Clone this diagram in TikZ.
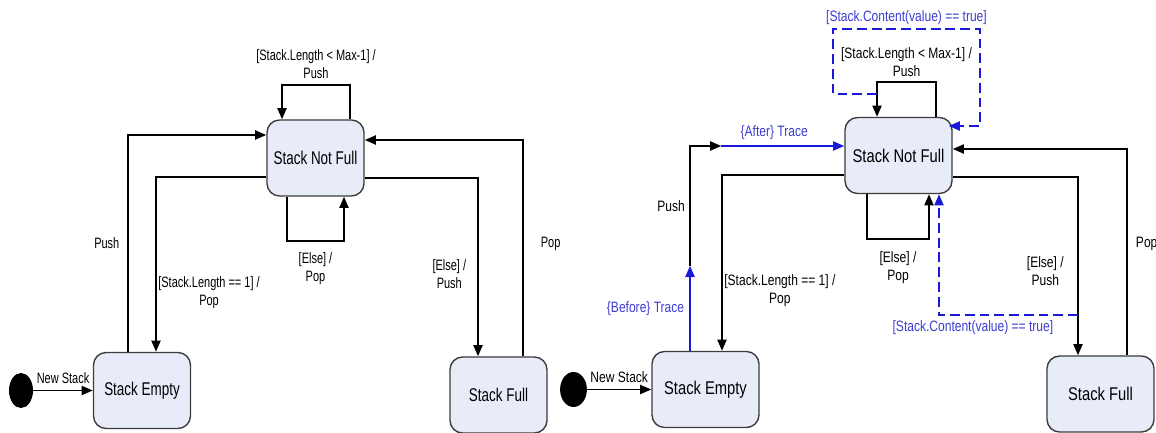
\documentclass[tikz,border=0pt]{standalone}
\usepackage{fontspec}
\newfontfamily\lfam{Liberation Sans}[FakeStretch=0.73]
\newfontfamily\rfam{Liberation Sans}[FakeStretch=0.80]
\usepackage{xcolor}
\usepackage{tikz}
\usetikzlibrary{shapes.geometric,arrows.meta,calc}

\definecolor{stfill}{RGB}{232,236,248}
\definecolor{stdraw}{RGB}{60,60,60}
\definecolor{traceblue}{RGB}{25,25,215}
\definecolor{tracetext}{RGB}{60,60,210}
\newcommand\bigfs{\fontsize{13.1}{15.7}\selectfont}
\newcommand\smallfs{\fontsize{10.7}{12.8}\selectfont}

\tikzset{
  stbox/.style={rectangle, rounded corners=9pt, draw=stdraw, fill=stfill, line width=1pt, minimum height=1.9cm, inner sep=2pt},
  initdot/.style={ellipse, fill=black, minimum width=0.6cm, minimum height=0.875cm, inner sep=0pt},
  trlbl/.style={align=center, inner sep=1pt},
  bluelbl/.style={trlbl, text=tracetext},
  trans/.style={line width=1.35pt, -{Triangle[length=8pt,width=6.5pt]}},
  trace/.style={trans, draw=traceblue},
  tracedash/.style={trace, dash pattern=on 7pt off 3.5pt},
}

\begin{document}
\begin{tikzpicture}[x=0.025cm, y=-0.025cm]
\useasboundingbox (0,0) rectangle (1156,433);

% Left machine
\begin{scope}[stbox/.append style={font=\lfam\bigfs, minimum width=2.425cm}, trlbl/.append style={font=\lfam\smallfs}]
\node[stbox] (nf1) at (315.5,158) {Stack Not Full};
\node[stbox] (em1) at (142,390.5) {Stack Empty};
\node[stbox] (fu1) at (498.5,395) {Stack Full};
\node[initdot] (in1) at (21,390.5) {};

\draw[trans] (in1) -- node[trlbl, above=3pt] (ns1) {New Stack} (em1);
\draw[trans] ($(em1.north)+(-14,0)$) |- node[trlbl, pos=0.25, left=4.5pt] (pu1) {Push} ($(nf1.west)+(0,-23)$);
\draw[trans] ($(nf1.west)+(0,19)$) -| node[trlbl, pos=0.83, right=0pt] (po1) {[Stack.Length == 1] /\\Pop} ($(em1.north)+(14,0)$);
\draw[trans] ($(nf1.south)+(-28.5,0)$) -- ++(0,44) -| node[trlbl, pos=0.25, below=7pt] (ep1) {[Else] /\\Pop} ($(nf1.south)+(28.5,0)$);
\draw[trans] ($(nf1.north)+(34.5,0)$) -- ++(0,-34) -| node[trlbl, pos=0.25, above=3pt] (lp1) {[Stack.Length < Max-1] /\\Push} ($(nf1.north)+(-33.5,0)$);
\draw[trans] ($(nf1.east)+(0,20)$) -| node[trlbl, pos=0.77, left=6.8pt] (eu1) {[Else] /\\Push} ($(fu1.north)+(-20.5,0)$);
\draw[trans] ($(fu1.north)+(24.5,0)$) |- node[trlbl, pos=0.26, right=11pt] (pp1) {Pop} ($(nf1.east)+(0,-18)$);
\end{scope}

% Right machine, with trace
\begin{scope}[stbox/.append style={font=\rfam\bigfs, minimum width=2.675cm}, trlbl/.append style={font=\rfam\smallfs}]
\node[stbox] (nf2) at (898.5,155.5) {Stack Not Full};
\node[stbox] (em2) at (705.5,389.5) {Stack Empty};
\node[stbox] (fu2) at (1100.5,394) {Stack Full};
\node[initdot, minimum width=0.67cm] (in2) at (573.5,389.5) {};

\draw[trans] (in2) -- node[trlbl, above=3pt] (ns2) {New Stack} (em2);

\coordinate (bf2) at ($(em2.north)+(-15.5,-85)$);
\coordinate (af2) at ($(nf2.west)+(-123,-9.5)$);
\draw[trace] ($(em2.north)+(-15.5,0)$) -- node[bluelbl, midway, left=2.5pt] (bt2) {\{Before\} Trace} (bf2);
\draw[trans] (bf2) |- node[trlbl, pos=0.25, left=2pt] (pu2) {Push} (af2);
\draw[trace] (af2) -- node[bluelbl, pos=0.43, above=3pt] (at2) {\{After\} Trace} ($(nf2.west)+(0,-9.5)$);

\draw[trans] ($(nf2.west)+(0,19.5)$) -| node[trlbl, pos=0.83, right=0pt] (po2) {[Stack.Length == 1] /\\Pop} ($(em2.north)+(16.5,0)$);
\draw[trans] ($(nf2.south)+(-31.5,0)$) -- ++(0,45) -| node[trlbl, pos=0.25, below=7pt] (ep2) {[Else] /\\Pop} ($(nf2.south)+(30.5,0)$);
\draw[trans] ($(nf2.north)+(37.5,0)$) -- ++(0,-35) -| node[trlbl, pos=0.25, above=2pt] (lp2) {[Stack.Length < Max-1] /\\Push} ($(nf2.north)+(-21.5,0)$);

\coordinate (lc2) at ($(nf2.north)+(-21.5,-23)$);
\draw[tracedash] (lc2) -- ++(-44,0) -- ++(0,-65) -- node[bluelbl, midway, above=1.5pt] (ct2) {[Stack.Content(value) == true]} ++(147,0) |- ($(nf2.east)+(-4,-29.5)$);

\draw[trans] ($(nf2.east)+(0,21.5)$) -| node[trlbl, pos=0.765, left=8.5pt] (eu2) {[Else] /\\Push} ($(fu2.north)+(-22.5,0)$);
\coordinate (fc2) at ($(fu2.north)+(-22.5,-40)$);
\draw[tracedash] (fc2) -| node[bluelbl, pos=0.378, below=2pt] (cb2) {[Stack.Content(value) == true]} ($(nf2.south)+(40.5,0)$);
\draw[trans] ($(fu2.north)+(26.5,0)$) |- node[trlbl, pos=0.27, right=4.7pt] (pp2) {Pop} ($(nf2.east)+(0,-6.5)$);
\end{scope}
\end{tikzpicture}
\end{document}
